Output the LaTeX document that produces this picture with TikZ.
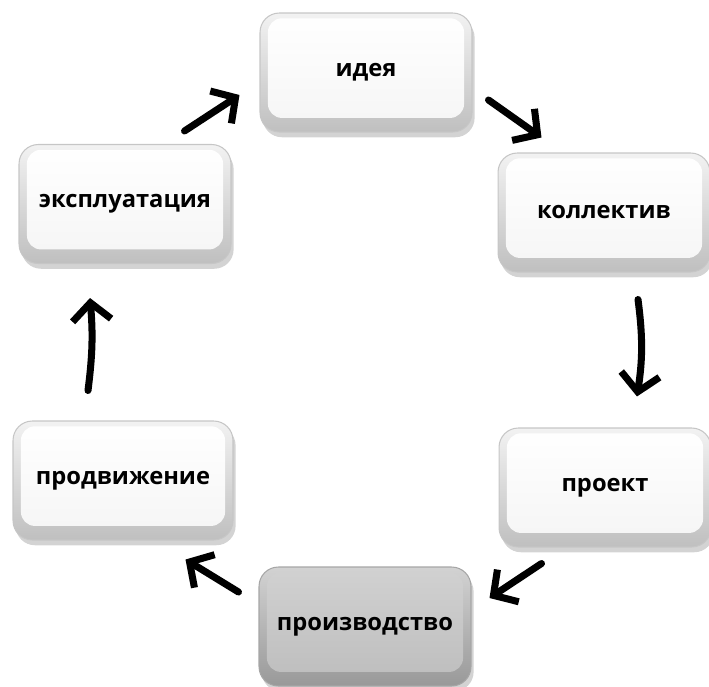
\documentclass[tikz,border=0pt]{standalone}
\usepackage{fontspec}
\setmainfont{Open Sans}
\usepackage{tikz}
\usetikzlibrary{positioning}
\usetikzlibrary{calc}
\usetikzlibrary{arrows.meta}
\usetikzlibrary{shadows}
\tikzset{
  keybox/.style={rounded corners=11pt, minimum width=4.24cm, minimum height=2.38cm,
    draw=gray!45, line width=.6pt, top color=gray!10, bottom color=gray!50,
    drop shadow={opacity=.35, shadow xshift=1.5pt, shadow yshift=-3pt},
    font=\fontsize{13.5}{15}\selectfont\bfseries, text=black,
    path picture={\shade[top color=white, bottom color=gray!8, rounded corners=8pt]
      ([shift={(4.5pt,-3pt)}]path picture bounding box.north west) rectangle
      ([shift={(-4.5pt,8pt)}]path picture bounding box.south east);}},
  darkbox/.style={keybox, draw=gray!70, top color=gray!35, bottom color=gray!80,
    path picture={\shade[top color=gray!36, bottom color=gray!52, rounded corners=8pt]
      ([shift={(4.5pt,-3pt)}]path picture bounding box.north west) rectangle
      ([shift={(-4.5pt,8pt)}]path picture bounding box.south east);}},
  cyc/.style={line width=4pt, line cap=round, -{Straight Barb[length=10pt, width=22pt]}}
}
\begin{document}
\begin{tikzpicture}[x=0.02cm, y=-0.02cm]
\useasboundingbox (0,0) rectangle (709,686);
% -- the six boxes --
\node[keybox] (idea) at (366,72.5) {идея};
\node[keybox] (koll) at (604,212.5) {коллектив};
\node[keybox] (proekt) at (605,487.5) {проект};
\node[darkbox] (proizv) at (365,626.5) {производство};
\node[keybox, minimum width=4.4cm] (prodv) at (123,480.5) {продвижение};
\node[keybox] (expl) at (125,204) {эксплуатация};
% -- arrows round the cycle --
\draw[cyc] ([shift={(-47,-13)}]expl.north east) to ([shift={(-20,22.5)}]idea.west);
\draw[cyc] ([shift={(16,27.5)}]idea.east) to ([shift={(44,-15)}]koll.north west);
\draw[cyc] ([shift={(34,27)}]koll.south) to[bend left=8] ([shift={(32,-31)}]proekt.north);
\draw[cyc] ([shift={(43,16)}]proekt.south west) to ([shift={(18,-28.5)}]proizv.east);
\draw[cyc] ([shift={(-20,-34.5)}]proizv.west) to ([shift={(-48,19)}]prodv.south east);
\draw[cyc] ([shift={(-35,-30)}]prodv.north) to[bend right=6] ([shift={(-35,34)}]expl.south);
\end{tikzpicture}
\end{document}
